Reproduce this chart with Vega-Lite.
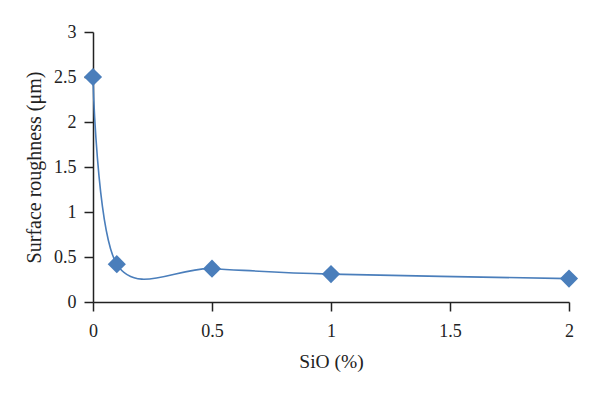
{
  "$schema": "https://vega.github.io/schema/vega-lite/v6.json",
  "width": 476,
  "height": 270,
  "autosize": {"type": "none"},
  "padding": {"left": 93, "top": 32, "right": 31, "bottom": 91},
  "background": "white",
  "config": {
    "view": {"stroke": null}
  },
  "data": {
    "values": [
      {"x": 0, "y": 2.5},
      {"x": 0.1, "y": 0.42},
      {"x": 0.5, "y": 0.37},
      {"x": 1, "y": 0.31},
      {"x": 2, "y": 0.26}
    ]
  },
  "encoding": {
    "x": {
      "field": "x",
      "type": "quantitative",
      "scale": {"domain": [0, 2], "nice": false, "zero": true},
      "axis": {
        "values": [0, 0.5, 1, 1.5, 2], "format": "~g", "title": "SiO (%)",
        "grid": false, "domainColor": "#222", "domainWidth": 1.5, "tickColor": "#222", "tickWidth": 1.5, "tickSize": 9,
        "labelFont": "Liberation Serif", "labelFontSize": 18, "labelColor": "#222", "labelPadding": 11, "labelFlush": false,
        "titleFont": "Liberation Serif", "titleFontSize": 19.5, "titleFontWeight": "normal", "titleColor": "#222", "titlePadding": 12
      }
    },
    "y": {
      "field": "y",
      "type": "quantitative",
      "scale": {"domain": [0, 3], "nice": false},
      "axis": {
        "values": [0, 0.5, 1, 1.5, 2, 2.5, 3], "format": "~g", "title": "Surface roughness (μm)",
        "grid": false, "domainColor": "#222", "domainWidth": 1.5, "tickColor": "#222", "tickWidth": 1.5, "tickSize": 9,
        "labelFont": "Liberation Serif", "labelFontSize": 18, "labelColor": "#222", "labelPadding": 8, "labelFlush": false,
        "titleFont": "Liberation Serif", "titleFontSize": 20, "titleFontWeight": "normal", "titleColor": "#222", "titlePadding": 9
      }
    }
  },
  "layer": [
    {
      "mark": {"type": "line", "interpolate": "cardinal", "tension": 0, "color": "#4a7ebb", "strokeWidth": 1.6}
    },
    {
      "mark": {"type": "point", "shape": "diamond", "filled": true, "size": 330, "color": "#4a7ebb", "opacity": 1}
    }
  ]
}
